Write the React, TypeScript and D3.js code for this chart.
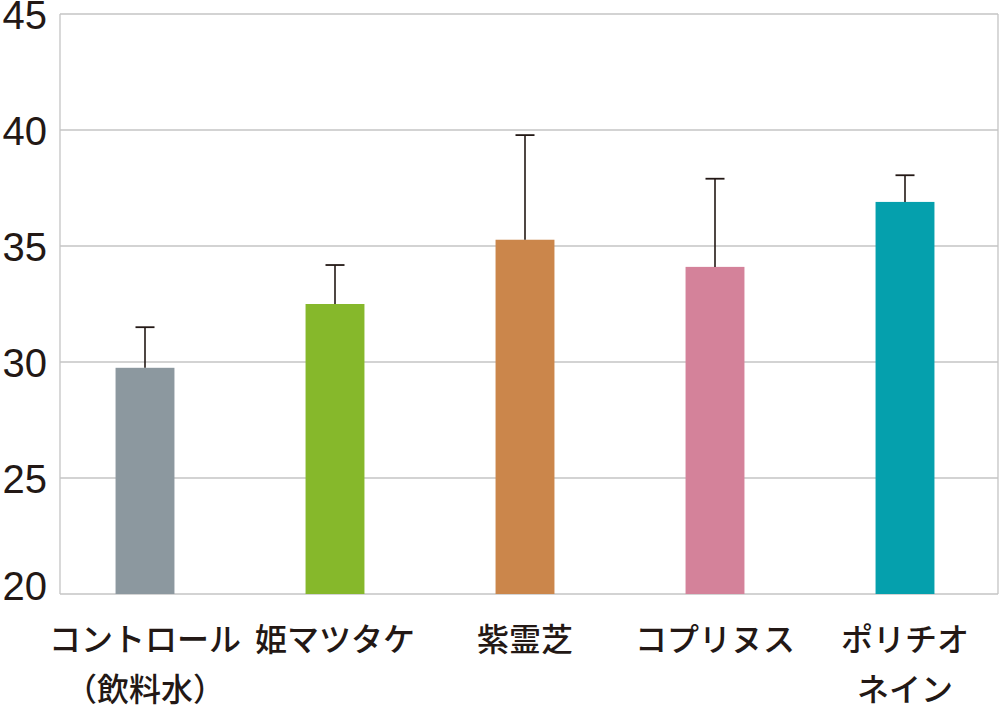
import React from "react";
import * as d3 from "d3";

const categories: string[][] = [
  ["コントロール", "（飲料水）"],
  ["姫マツタケ"],
  ["紫霊芝"],
  ["コプリヌス"],
  ["ポリチオ", "ネイン"],
];
const means = [29.75, 32.5, 35.27, 34.1, 36.9];
const errorTops = [31.5, 34.18, 39.78, 37.9, 38.05];
const colors = ["#8c989f", "#86b82b", "#cb864b", "#d4829a", "#05a0ad"];
const yTicks = [20, 25, 30, 35, 40, 45];

const W = 1000;
const H = 709;
const plot = { left: 60, right: 998, top: 14, bottom: 594 };

export default function App() {
  const ids = categories.map((_, i) => String(i));
  const x = d3
    .scaleBand<string>()
    .domain(ids)
    .range([50, 1000])
    .paddingInner(0.69)
    .paddingOuter(0.345);
  const y = d3.scaleLinear().domain([20, 45]).range([plot.bottom, plot.top]);
  const grid = "#c4c4c4";
  const capHalf = 9.5;

  return (
    <svg
      width={W}
      height={H}
      style={{ position: "absolute", left: 0, top: 0, display: "block" }}
    >
      <rect width={W} height={H} fill="#ffffff" />
      {yTicks.map((t) => (
        <line
          key={"g" + t}
          x1={plot.left}
          x2={plot.right}
          y1={y(t)}
          y2={y(t)}
          stroke={grid}
          strokeWidth={1.3}
        />
      ))}
      <line x1={plot.left} x2={plot.left} y1={plot.top} y2={plot.bottom} stroke={grid} strokeWidth={1.3} />
      <line x1={plot.right} x2={plot.right} y1={plot.top} y2={plot.bottom} stroke={grid} strokeWidth={1.3} />
      {yTicks.map((t, i) => (
        <text
          key={"t" + t}
          x={47}
          y={y(t)}
          dy={i === 0 ? -8 : 1}
          textAnchor="end"
          dominantBaseline="central"
          fontFamily="'Liberation Sans', Arial, sans-serif"
          fontSize={40}
          fill="#231815"
        >
          {t}
        </text>
      ))}
      {ids.map((id, i) => {
        const bx = x(id)!;
        const cx = bx + x.bandwidth() / 2;
        return (
          <g key={"b" + id}>
            <rect
              x={bx}
              y={y(means[i])}
              width={x.bandwidth()}
              height={y(20) - y(means[i])}
              fill={colors[i]}
            />
            <line x1={cx} x2={cx} y1={y(means[i])} y2={y(errorTops[i])} stroke="#231815" strokeWidth={1.6} />
            <line
              x1={cx - capHalf}
              x2={cx + capHalf}
              y1={y(errorTops[i])}
              y2={y(errorTops[i])}
              stroke="#231815"
              strokeWidth={1.8}
            />
          </g>
        );
      })}
      {ids.map((id, i) => {
        const cx = x(id)! + x.bandwidth() / 2;
        return (
          <text
            key={"l" + id}
            textAnchor="middle"
            fontFamily="'Noto Sans CJK JP', sans-serif"
            fontSize={32}
            fontWeight={500}
            fill="#231815"
          >
            {categories[i].map((line, j) => (
              <tspan key={j} x={cx} y={651 + j * 50}>
                {line}
              </tspan>
            ))}
          </text>
        );
      })}
    </svg>
  );
}
